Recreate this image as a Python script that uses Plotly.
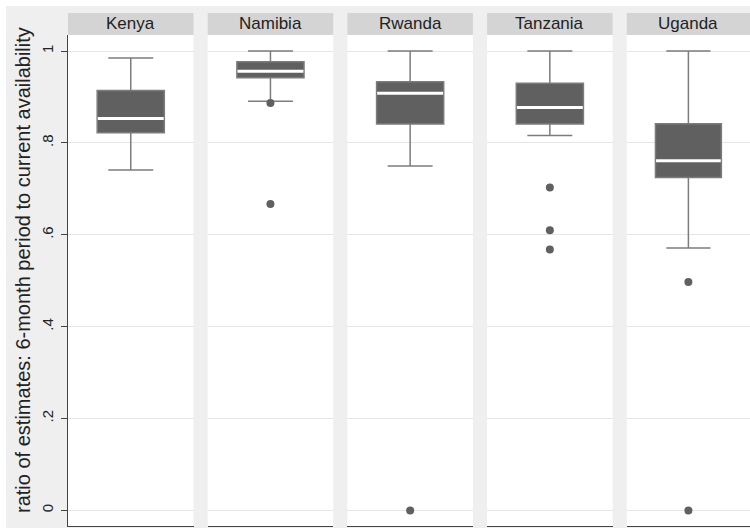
import plotly.graph_objects as go

countries = ["Kenya", "Namibia", "Rwanda", "Tanzania", "Uganda"]
upper_whisker = [0.985, 1.0, 1.0, 1.0, 1.0]
q3_vals = [0.914, 0.977, 0.933, 0.930, 0.842]
median_vals = [0.853, 0.956, 0.908, 0.877, 0.761]
q1_vals = [0.822, 0.942, 0.841, 0.841, 0.725]
lower_whisker = [0.741, 0.891, 0.750, 0.816, 0.571]
outliers = [[], [0.887, 0.667], [0.0], [0.703, 0.610, 0.568], [0.497, 0.0]]

y_tickvals = [0, 0.2, 0.4, 0.6, 0.8, 1.0]
y_ticktext = ["0", ".2", ".4", ".6", ".8", "1"]
y_title = "ratio of estimates: 6-month period to current availability"

W, H = 750, 528
ML, MR, MT, MB = 68, 0, 35, 2
PW = W - ML - MR
PH = H - MT - MB

BOX_COLOR = "#606060"
WHISKER_COLOR = "#7c7c7c"
BG = "#efefef"
HEADER = "#d4d4d4"
FONT = "Liberation Sans, Arial, sans-serif"
BOX_W = 1.07

def px_x(px):
    return (px - ML) / PW

def px_y(py):
    return (H - MB - py) / PH

fig = go.Figure()
layout_axes = {}
shapes = []
annotations = []
panel_start = 68
panel_step = 139.7
panel_width = 125.5

for i, c in enumerate(countries):
    n = "" if i == 0 else str(i + 1)
    xa = "x" + n
    ya = "y" + n
    fig.add_trace(go.Box(
        x=[0], q1=[q1_vals[i]], median=[median_vals[i]], q3=[q3_vals[i]],
        lowerfence=[lower_whisker[i]], upperfence=[upper_whisker[i]],
        width=BOX_W, whiskerwidth=0.67, fillcolor=BOX_COLOR,
        line=dict(color=WHISKER_COLOR, width=1.5), boxpoints=False,
        xaxis=xa, yaxis=ya, showlegend=False, hoverinfo="skip"))
    fig.add_trace(go.Scatter(
        x=[-BOX_W / 2 + 0.01, BOX_W / 2 - 0.01], y=[median_vals[i], median_vals[i]],
        mode="lines", line=dict(color="white", width=3),
        xaxis=xa, yaxis=ya, showlegend=False, hoverinfo="skip"))
    if outliers[i]:
        fig.add_trace(go.Scatter(
            x=[0] * len(outliers[i]), y=outliers[i], mode="markers",
            marker=dict(color=BOX_COLOR, size=8),
            xaxis=xa, yaxis=ya, showlegend=False, hoverinfo="skip"))
    x0 = px_x(panel_start + i * panel_step)
    x1 = min(1.0, px_x(panel_start + i * panel_step + panel_width))
    layout_axes["xaxis" + n] = dict(
        domain=[x0, x1], range=[-1, 1], showticklabels=False, showgrid=False,
        zeroline=False, showline=True, linecolor="#444444", linewidth=1.2,
        ticks="", anchor=ya, fixedrange=True)
    yax = dict(
        domain=[0, 1], range=[-0.034, 1.035], anchor=xa,
        showgrid=True, gridcolor="#e6e6e6", gridwidth=1, zeroline=False,
        tickvals=y_tickvals, ticktext=y_ticktext, fixedrange=True)
    if i == 0:
        yax.update(showticklabels=True, ticks="outside", ticklen=6,
                   tickcolor="#444444", showline=True, linecolor="#444444",
                   linewidth=1.2, tickangle=-90, ticklabelstandoff=2,
                   tickfont=dict(size=15, color="#222222", family=FONT))
    else:
        yax.update(showticklabels=False, ticks="", showline=False, matches="y")
    layout_axes["yaxis" + n] = yax
    shapes.append(dict(type="rect", xref=xa + " domain", yref="paper",
                       x0=0, x1=1, y0=px_y(35), y1=px_y(13),
                       fillcolor=HEADER, line=dict(width=0), layer="below"))
    annotations.append(dict(text=c, xref=xa + " domain", yref="paper",
                            x=0.5, y=px_y(24), showarrow=False,
                            xanchor="center", yanchor="middle",
                            font=dict(size=17, color="#222222", family=FONT)))

# white outer border (top and left)
shapes.append(dict(type="rect", xref="paper", yref="paper",
                   x0=px_x(-5), x1=px_x(6), y0=px_y(H + 5), y1=px_y(-5),
                   fillcolor="white", line=dict(width=0), layer="below"))
shapes.append(dict(type="rect", xref="paper", yref="paper",
                   x0=px_x(-5), x1=px_x(W + 5), y0=px_y(6), y1=px_y(-5),
                   fillcolor="white", line=dict(width=0), layer="below"))

annotations.append(dict(text=y_title, xref="paper", yref="paper",
                        x=px_x(23), y=px_y(270), textangle=-90,
                        showarrow=False, xanchor="center", yanchor="middle",
                        font=dict(size=20, color="#222222", family=FONT)))

fig.update_layout(
    width=W, height=H,
    margin=dict(l=ML, r=MR, t=MT, b=MB),
    paper_bgcolor=BG, plot_bgcolor="white",
    shapes=shapes, annotations=annotations,
    font=dict(family=FONT),
    **layout_axes)

fig.write_html("out.html", config={"displayModeBar": False},
               post_script="document.body.style.margin='0px';document.body.style.overflow='hidden';")
